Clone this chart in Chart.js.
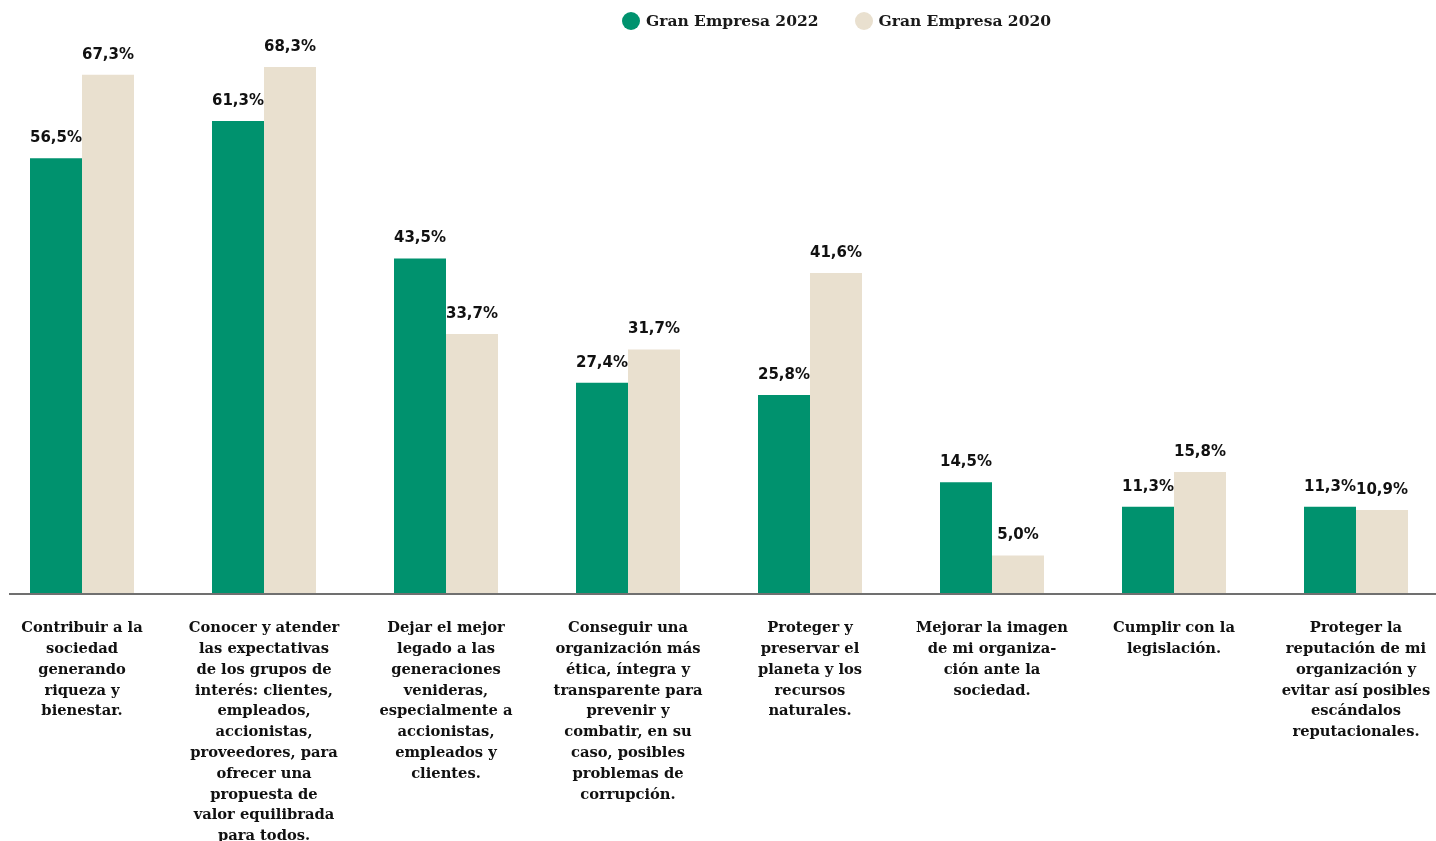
<!DOCTYPE html>
<html lang="es">
<head>
<meta charset="utf-8">
<script src="https://cdn.jsdelivr.net/npm/chart.js@4.4.1/dist/chart.umd.min.js"></script>
<style>
  body { margin: 0; background: #fff; overflow: hidden; }
  #wrap { position: relative; width: 1436px; height: 841px; overflow: hidden; }
  #legend { position: absolute; top: 11px; left: 622px; display: flex; align-items: center;
            font: bold 15.5px "DejaVu Serif"; color: #1a1a1a; z-index: 2; }
  .item { display: flex; align-items: center; margin-right: 36px; }
  .dot { width: 18px; height: 18px; border-radius: 50%; margin-right: 6px; }
  canvas { position: absolute; left: -9px; top: 0; }
</style>
</head>
<body>
<div id="wrap">
  <div id="legend"></div>
  <canvas id="myChart" width="1456" height="841"></canvas>
</div>
<script>
const categories = [
  ["Contribuir a la", "sociedad", "generando", "riqueza y", "bienestar."],
  ["Conocer y atender", "las expectativas", "de los grupos de", "interés: clientes,", "empleados,", "accionistas,", "proveedores, para", "ofrecer una", "propuesta de", "valor equilibrada", "para todos."],
  ["Dejar el mejor", "legado a las", "generaciones", "venideras,", "especialmente a", "accionistas,", "empleados y", "clientes."],
  ["Conseguir una", "organización más", "ética, íntegra y", "transparente para", "prevenir y", "combatir, en su", "caso, posibles", "problemas de", "corrupción."],
  ["Proteger y", "preservar el", "planeta y los", "recursos", "naturales."],
  ["Mejorar la imagen", "de mi organiza-", "ción ante la", "sociedad."],
  ["Cumplir con la", "legislación."],
  ["Proteger la", "reputación de mi", "organización y", "evitar así posibles", "escándalos", "reputacionales."]
];
const seriesNames = ["Gran Empresa 2022", "Gran Empresa 2020"];
const values2022 = [56.5, 61.3, 43.5, 27.4, 25.8, 14.5, 11.3, 11.3];
const values2020 = [67.3, 68.3, 33.7, 31.7, 41.6, 5.0, 15.8, 10.9];
const colors = ["#00926e", "#e9e0cf"];

function fmt(v) {
  return v.toFixed(1).replace(".", ",") + "%";
}

// legend above the chart
const legendEl = document.getElementById("legend");
seriesNames.forEach((name, i) => {
  const item = document.createElement("div");
  item.className = "item";
  item.innerHTML = '<span class="dot" style="background:' + colors[i] + '"></span>' + name;
  legendEl.appendChild(item);
});

// percentages over each bar
const valueLabels = {
  id: "valueLabels",
  afterDatasetsDraw(chart) {
    const ctx = chart.ctx;
    ctx.save();
    ctx.font = 'bold 15px "DejaVu Sans"';
    ctx.fillStyle = "#111";
    ctx.textAlign = "center";
    ctx.textBaseline = "alphabetic";
    chart.data.datasets.forEach((ds, i) => {
      chart.getDatasetMeta(i).data.forEach((bar, j) => {
        ctx.fillText(fmt(ds.data[j]), bar.x, bar.y - 16);
      });
    });
    ctx.restore();
  }
};

// grey base line
const baseline = {
  id: "baseline",
  afterDatasetsDraw(chart) {
    const ctx = chart.ctx;
    const y = chart.scales.y.getPixelForValue(0);
    ctx.save();
    ctx.strokeStyle = "#707070";
    ctx.lineWidth = 2;
    ctx.beginPath();
    ctx.moveTo(18, y);
    ctx.lineTo(chart.width, y);
    ctx.stroke();
    ctx.restore();
  }
};

const ctx = document.getElementById("myChart").getContext("2d");
const myChart = new Chart(ctx, {
  type: "bar",
  data: {
    labels: categories,
    datasets: [
      { label: seriesNames[0], data: values2022, backgroundColor: colors[0] },
      { label: seriesNames[1], data: values2020, backgroundColor: colors[1] }
    ]
  },
  options: {
    responsive: false,
    animation: false,
    barPercentage: 1,
    categoryPercentage: 0.5714,
    layout: { padding: 0 },
    plugins: {
      legend: { display: false },
      tooltip: { enabled: false }
    },
    scales: {
      x: {
        grid: { display: false },
        border: { display: false },
        afterFit: (scale) => { scale.height = 247; },
        ticks: {
          autoSkip: false,
          maxRotation: 0,
          padding: 16,
          color: "#111",
          font: { family: "DejaVu Serif", weight: "bold", size: 14.7, lineHeight: 1.415 }
        }
      },
      y: {
        display: false,
        min: 0,
        max: 77
      }
    }
  },
  plugins: [valueLabels, baseline]
});
</script>
</body>
</html>
